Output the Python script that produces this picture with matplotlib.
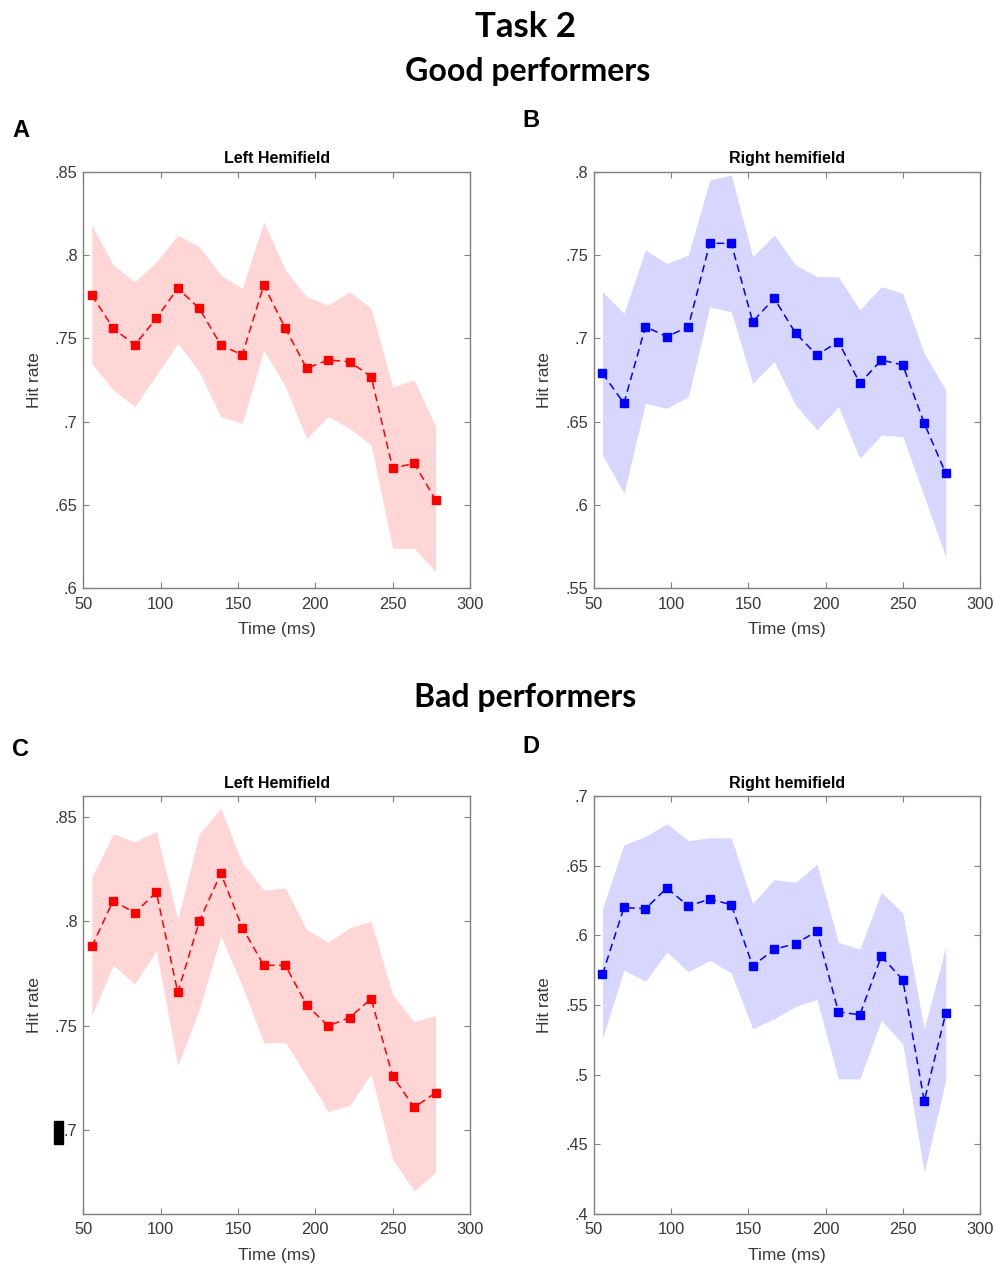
import numpy as np
import matplotlib
matplotlib.use('Agg')
import matplotlib.pyplot as plt
from matplotlib.ticker import FuncFormatter
from matplotlib.patches import Rectangle

# time bins (ms)
t = [55.5, 69.4, 83.3, 97.2, 111.1, 125.0, 138.9, 152.8, 166.7,
     180.6, 194.4, 208.3, 222.2, 236.1, 250.0, 263.9, 277.8]

# good performers, left hemifield
good_left = [0.776, 0.756, 0.746, 0.762, 0.780, 0.768, 0.746, 0.740, 0.782,
             0.756, 0.732, 0.737, 0.736, 0.727, 0.672, 0.675, 0.653]
good_left_hi = [0.818, 0.794, 0.784, 0.796, 0.812, 0.805, 0.788, 0.780, 0.820,
                0.791, 0.775, 0.770, 0.778, 0.768, 0.721, 0.725, 0.697]
good_left_lo = [0.735, 0.719, 0.709, 0.728, 0.747, 0.730, 0.703, 0.699, 0.743,
                0.721, 0.690, 0.703, 0.696, 0.686, 0.624, 0.624, 0.610]

# good performers, right hemifield
good_right = [0.679, 0.661, 0.707, 0.701, 0.707, 0.757, 0.757, 0.710, 0.724,
              0.703, 0.690, 0.698, 0.673, 0.687, 0.684, 0.649, 0.619]
good_right_hi = [0.728, 0.715, 0.753, 0.745, 0.750, 0.795, 0.798, 0.749, 0.762,
                 0.744, 0.737, 0.737, 0.717, 0.731, 0.727, 0.691, 0.669]
good_right_lo = [0.630, 0.607, 0.661, 0.658, 0.665, 0.719, 0.716, 0.673, 0.686,
                 0.660, 0.645, 0.659, 0.628, 0.642, 0.641, 0.605, 0.569]

# bad performers, left hemifield
bad_left = [0.788, 0.810, 0.804, 0.814, 0.766, 0.800, 0.823, 0.797, 0.779,
            0.779, 0.760, 0.750, 0.754, 0.763, 0.726, 0.711, 0.718]
bad_left_hi = [0.821, 0.842, 0.838, 0.843, 0.801, 0.842, 0.854, 0.828, 0.815,
               0.816, 0.796, 0.790, 0.797, 0.800, 0.765, 0.752, 0.755]
bad_left_lo = [0.755, 0.779, 0.770, 0.786, 0.731, 0.758, 0.793, 0.769, 0.742,
               0.742, 0.726, 0.709, 0.712, 0.727, 0.686, 0.671, 0.680]

# bad performers, right hemifield
bad_right = [0.572, 0.620, 0.619, 0.634, 0.621, 0.626, 0.622, 0.578, 0.590,
             0.594, 0.603, 0.545, 0.543, 0.585, 0.568, 0.481, 0.544]
bad_right_hi = [0.619, 0.665, 0.671, 0.680, 0.668, 0.670, 0.670, 0.623, 0.640,
                0.638, 0.651, 0.595, 0.590, 0.631, 0.616, 0.533, 0.592]
bad_right_lo = [0.526, 0.575, 0.567, 0.588, 0.574, 0.582, 0.573, 0.533, 0.540,
                0.549, 0.554, 0.497, 0.497, 0.539, 0.522, 0.430, 0.496]

W, H = 995, 1266
fig = plt.figure(figsize=(W / 100, H / 100), dpi=100)
plt.rcParams['font.family'] = ['Liberation Sans', 'DejaVu Sans']

grey = '#383838'
spine = '#808080'


def box(l, t_, r, b):
    return [l / W, 1 - b / H, (r - l) / W, (b - t_) / H]


def panel(rect, x, m, lo, hi, color, fill, ylim, yticks, title):
    ax = fig.add_axes(rect)
    ax.fill_between(x, lo, hi, color=fill, lw=0)
    ax.plot(x, m, '--s', color=color, lw=1.1, ms=6, dashes=(5, 3))
    ax.set_xlim(50, 300)
    ax.set_ylim(*ylim)
    ax.set_xticks(np.arange(50, 301, 50))
    ax.set_yticks(yticks)
    ax.yaxis.set_major_formatter(FuncFormatter(lambda v, p: f'{v:g}'.lstrip('0')))
    ax.tick_params(direction='in', length=4, width=0.8, color=spine,
                   labelcolor=grey, labelsize=11.8, top=True, right=True)
    ax.tick_params(axis='x', pad=6)
    ax.tick_params(axis='y', pad=4)
    for s in ax.spines.values():
        s.set_color(spine)
        s.set_linewidth(1.0)
    ax.set_title(title, fontsize=11.5, fontweight='bold', pad=6)
    ax.set_xlabel('Time (ms)', fontsize=12.5, color=grey)
    ax.set_ylabel('Hit rate', fontsize=12.5, color=grey)
    ax.xaxis.set_label_coords(0.5, -0.082)
    ax.yaxis.set_label_coords(-0.108, 0.5)
    return ax


red, pink = '#ff0000', '#ffd6d6'
blue, lav = '#0000ff', '#d6d6ff'

panel(box(83.3, 171.7, 470, 588.3), t, good_left, good_left_lo, good_left_hi,
      red, pink, (0.6, 0.85), np.arange(0.6, 0.851, 0.05), 'Left Hemifield')
panel(box(594, 171.7, 980, 588.3), t, good_right, good_right_lo, good_right_hi,
      blue, lav, (0.55, 0.8), np.arange(0.55, 0.801, 0.05), 'Right hemifield')
panel(box(83.3, 796, 470, 1214), t, bad_left, bad_left_lo, bad_left_hi,
      red, pink, (0.66, 0.86), np.arange(0.7, 0.851, 0.05), 'Left Hemifield')
panel(box(594, 796, 980, 1214), t, bad_right, bad_right_lo, bad_right_hi,
      blue, lav, (0.4, 0.7), np.arange(0.4, 0.701, 0.05), 'Right hemifield')

head = dict(family=['Lato', 'DejaVu Sans'], fontweight='bold', ha='center',
            va='baseline')
fig.text(526 / W, 1 - 37 / H, 'Task 2', fontsize=25, **head)
fig.text(528 / W, 1 - 81 / H, 'Good performers', fontsize=23, **head)
fig.text(525 / W, 1 - 707 / H, 'Bad performers', fontsize=23, **head)

lab = dict(fontweight='bold', fontsize=17, ha='left', va='baseline')
fig.text(12 / W, 1 - 137 / H, 'A', **lab)
fig.text(522 / W, 1 - 127 / H, 'B', **lab)
fig.text(12 / W, 1 - 756 / H, 'C', **lab)
fig.text(522 / W, 1 - 753 / H, 'D', **lab)

# small black block next to the .7 label in panel C
fig.patches.append(Rectangle((54 / W, 1 - 1144 / H), 9 / W, 23 / H,
                             transform=fig.transFigure, color='black'))

fig.savefig('out.png', dpi=100)
